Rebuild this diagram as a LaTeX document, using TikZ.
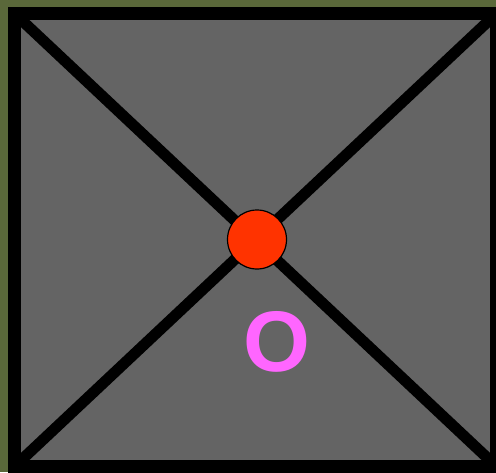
\documentclass[tikz,border=0pt]{standalone}
\usepackage{fontspec}
\setmainfont{Liberation Sans}
\usepackage{tikz}
\usetikzlibrary{positioning}
\definecolor{olivebg}{RGB}{90,104,58}
\definecolor{panelgray}{RGB}{100,100,100}
\definecolor{dotred}{RGB}{255,51,0}
\definecolor{labelpink}{RGB}{255,102,255}

\begin{document}
\begin{tikzpicture}[x=1pt, y=-1pt,
  dot/.style={circle, fill=dotred, draw=black, line width=1.2pt, minimum size=59pt, inner sep=0pt},
  cross/.style={line width=11pt}]
\useasboundingbox (0,0) rectangle (496,472);
% background and panel
\fill[olivebg] (0,0) rectangle (496,472);
\draw[fill=panelgray, line width=13pt] (14.5,13.5) rectangle (496.5,466.5);
% corners of the panel
\coordinate (tl) at (14.5,13.5);
\coordinate (tr) at (496.5,13.5);
\coordinate (bl) at (14.5,466.5);
\coordinate (br) at (496.5,466.5);
% diagonals
\begin{scope}
\clip (14.5,13.5) rectangle (496.5,466.5);
\draw[cross] (tl) -- (br);
\draw[cross] (tr) -- (bl);
\end{scope}
% centre point and its label
\node[dot] (o) at (257,239.5) {};
\node[text=labelpink, font=\bfseries\fontsize{86}{86}\selectfont, inner sep=0pt] (olabel) at (277,341.5) {O};
\end{tikzpicture}
\end{document}
